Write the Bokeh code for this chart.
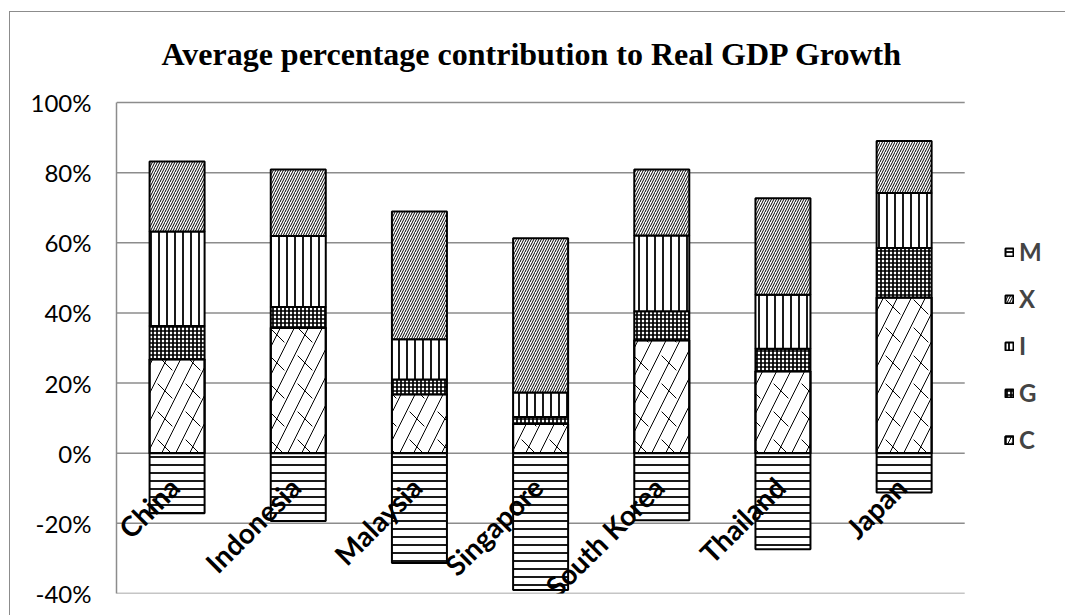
import math
import numpy as np
from bokeh.plotting import figure
from bokeh.models import (ColumnDataSource, Range1d, Legend, LegendItem, Label,
                          PrintfTickFormatter, FixedTicker)
from bokeh.embed import file_html
from bokeh.resources import INLINE
from bokeh.core.properties import value

# Average percentage contribution of each expenditure component (percent)
countries = ["China", "Indonesia", "Malaysia", "Singapore", "South Korea", "Thailand", "Japan"]
consumption = [26.8, 35.8, 16.8, 8.3, 32.2, 23.4, 44.4]        # C
government = [9.5, 5.9, 4.2, 2.0, 8.3, 6.4, 14.1]              # G
investment = [26.9, 20.2, 11.5, 7.0, 21.6, 15.4, 15.7]         # I
exports = [20.0, 19.0, 36.4, 44.0, 18.8, 27.5, 14.8]           # X
imports = [-17.1, -19.3, -31.3, -39.0, -19.1, -27.4, -11.2]    # M
y_ticks = [-40, -20, 0, 20, 40, 60, 80, 100]

FONT = "Lato"
GRID = "#8c8c8c"
BAR_W = 0.454
N = len(countries)
xs = np.arange(N) + 0.5            # slot centres; the plot area runs on past the last slot
X_END = 7.84                       # leaves room for the key on the right
Y_TOP = 125.66                     # headroom above 100% for the heading

# the chart box is inset from the page and framed on its left and top edges
p = figure(width=1056, height=604, output_backend="svg", toolbar_location=None,
           x_range=Range1d(0, X_END), y_range=Range1d(y_ticks[0], Y_TOP),
           min_border_left=106, min_border_right=0,
           min_border_top=0, min_border_bottom=23,
           margin=(11, 0, 0, 9),
           styles={"border-left": f"1px solid {GRID}", "border-top": f"1px solid {GRID}"})

p.outline_line_color = None
p.background_fill_color = "white"
p.border_fill_color = "white"

p.add_layout(Label(x=3.43, y=113.8, text="Average percentage contribution to Real GDP Growth",
                   text_align="center", text_baseline="alphabetic",
                   text_font="Liberation Serif", text_font_style="bold",
                   text_font_size="32px", text_color="black"))

# horizontal gridlines only across the bar slots
p.segment(x0=0, x1=N, y0=y_ticks, y1=y_ticks, line_color=GRID, line_width=1.5,
          level="underlay")


def bars(src, pattern, scale, weight, fill="white", line="black"):
    return p.vbar(x="x", bottom="bottom", top="top", width=BAR_W, source=src,
                  fill_color=fill, line_color=line, line_width=2,
                  hatch_pattern=pattern, hatch_scale=scale,
                  hatch_weight=weight, hatch_color="black")


renderers = {}
base = np.zeros(N)
for name, vals in [("C", consumption), ("G", government), ("I", investment), ("X", exports)]:
    vals = np.asarray(vals, dtype=float)
    src = ColumnDataSource(dict(x=xs, bottom=base, top=base + vals))
    if name == "C":
        # diagonal brick: continuous "/" strokes plus short "\" ticks
        r1 = bars(src, "/", 28, 1.0)
        r2 = bars(src, "`", 28, 1.0, fill=None, line="black")
        renderers[name] = [r1, r2]
    elif name == "G":
        renderers[name] = [bars(src, "+", 4, 1.7)]
    elif name == "I":
        renderers[name] = [bars(src, "|", 8, 1.8)]
    else:
        renderers[name] = [bars(src, "/", 5, 1.0)]
    base = base + vals

m_src = ColumnDataSource(dict(x=xs, bottom=imports, top=[0] * N))
renderers["M"] = [bars(m_src, "-", 8, 1.8)]

# category names sit under the zero line, rotated
lbl = ColumnDataSource(dict(x=xs, y=[0] * N, t=countries))
p.text(x="x", y="y", text="t", source=lbl, angle=math.pi / 4,
       text_align="right", text_baseline="middle", x_offset=-3, y_offset=29,
       text_font=value(FONT), text_font_style="bold", text_font_size="28px",
       text_color="black")

p.xaxis.visible = False
p.xgrid.visible = False
p.ygrid.visible = False
p.yaxis.ticker = FixedTicker(ticks=y_ticks)
p.yaxis.bounds = (y_ticks[0], y_ticks[-1])
p.yaxis.formatter = PrintfTickFormatter(format="%d%%")
p.yaxis.major_label_text_font = FONT
p.yaxis.major_label_text_font_size = "24px"
p.yaxis.major_label_text_color = "black"
p.yaxis.major_label_standoff = 25
p.yaxis.major_tick_line_color = None
p.yaxis.major_tick_out = 0
p.yaxis.major_tick_in = 0
p.yaxis.minor_tick_line_color = None
p.yaxis.axis_line_color = GRID
p.yaxis.axis_line_width = 1.5

legend = Legend(items=[LegendItem(label=k, renderers=renderers[k]) for k in ["M", "X", "I", "G", "C"]],
                location=(888, 139), glyph_width=10, glyph_height=10,
                label_text_font=FONT, label_text_font_style="bold",
                label_text_font_size="24px", spacing=18, label_standoff=5,
                border_line_color=None, background_fill_alpha=0, margin=0, padding=0)
p.add_layout(legend)

open("out.html", "w").write(file_html(p, INLINE))
